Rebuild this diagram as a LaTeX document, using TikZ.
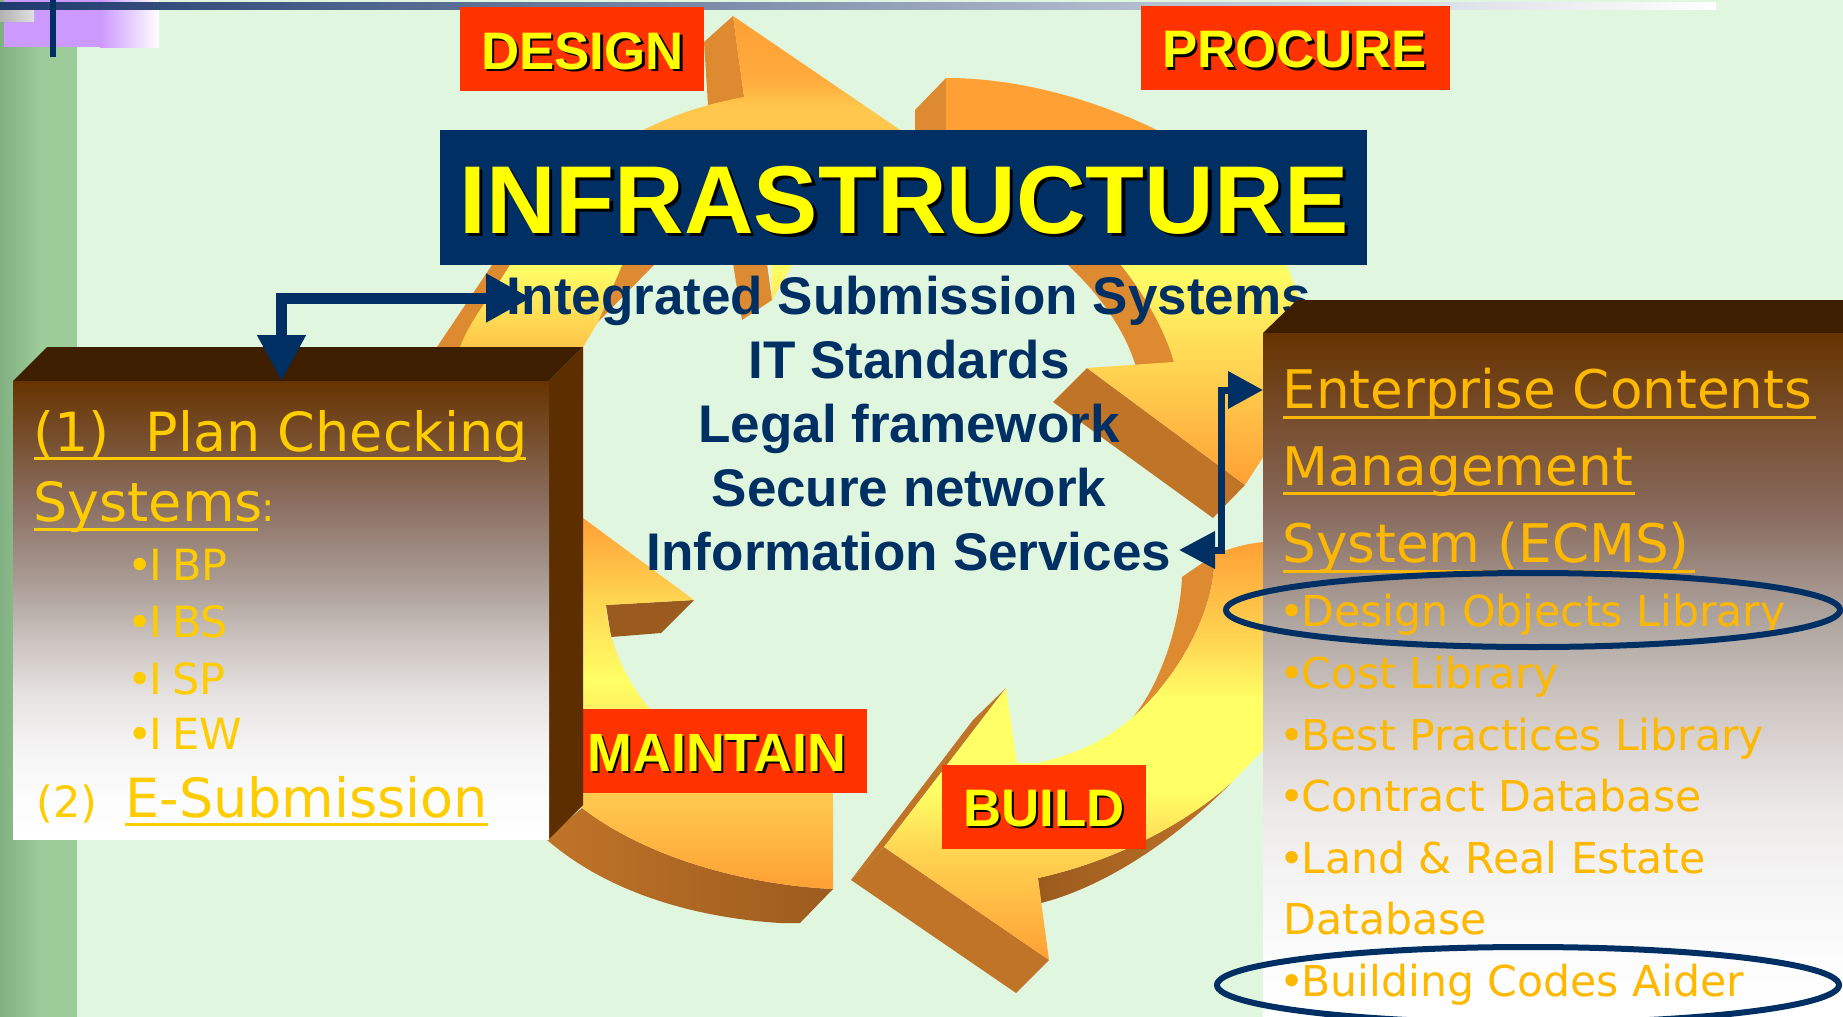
\documentclass[tikz,border=0pt]{standalone}
\usepackage{fontspec}
\usetikzlibrary{arrows.meta,shapes.geometric}
\setmainfont{Liberation Sans}
\newfontfamily\tah{DejaVu Sans}
\definecolor{bgc}{HTML}{E0F6DF}
\definecolor{navy}{HTML}{003063}
\definecolor{redl}{HTML}{FF3300}
\definecolor{gold}{HTML}{FFCC00}
\definecolor{goldr}{HTML}{FFB800}
\definecolor{txtyel}{HTML}{FFFF00}
\definecolor{or1}{HTML}{FFA035}
\definecolor{or2}{HTML}{FFAA3C}
\definecolor{orm}{HTML}{FFC84D}
\definecolor{orh}{HTML}{FFD552}
\definecolor{yel}{HTML}{FFFF66}
\definecolor{brtop}{HTML}{663300}
\definecolor{brtopf}{HTML}{3D1F00}
\definecolor{brside}{HTML}{5C2E00}
\definecolor{dkA}{HTML}{DE8A30}
\definecolor{dkB}{HTML}{C07428}
\definecolor{dkC}{HTML}{9C5B1E}
\definecolor{bandL}{HTML}{80B080}
\definecolor{bandR}{HTML}{9CCC98}
\definecolor{purp}{HTML}{CC99FF}
\definecolor{barL}{HTML}{1F3A6E}
\definecolor{g1}{HTML}{8A6D60}
\definecolor{g2}{HTML}{A89A92}
\definecolor{g3}{HTML}{C8C0BC}
\definecolor{g4}{HTML}{E5E1E0}
\definecolor{g5}{HTML}{F5F4F4}
\definecolor{g6}{HTML}{FCFCFC}
\definecolor{h1}{HTML}{88695C}
\definecolor{h2}{HTML}{ABA09A}
\definecolor{h3}{HTML}{C8C0BC}
\definecolor{h4}{HTML}{DCD6D4}
\definecolor{h5}{HTML}{ECE9E8}
\definecolor{h6}{HTML}{F4F3F3}
\definecolor{h7}{HTML}{FAFAFA}
\pgfdeclareverticalshading{shA}{100bp}{color(0bp)=(or1); color(25bp)=(or1); color(42.6bp)=(yel); color(60.2bp)=(orm); color(63bp)=(orm); color(67bp)=(or2); color(75bp)=(or1); color(100bp)=(or1)}
\pgfdeclareverticalshading{shB}{100bp}{color(0bp)=(or1); color(25bp)=(or1); color(39.7bp)=(orh); color(52bp)=(yel); color(68.6bp)=(or1); color(75bp)=(or1); color(100bp)=(or1)}
\pgfdeclareverticalshading{shC}{100bp}{color(0bp)=(or1); color(25bp)=(or1); color(38.2bp)=(orh); color(45.3bp)=(yel); color(56.1bp)=(yel); color(63.3bp)=(orh); color(75bp)=(or1); color(100bp)=(or1)}
\pgfdeclareverticalshading{shD}{100bp}{color(0bp)=(or1); color(25bp)=(or1); color(37bp)=(orm); color(53.2bp)=(yel); color(64bp)=(orh); color(75bp)=(or1); color(100bp)=(or1)}
\pgfdeclareverticalshading{boxL}{100bp}{color(0bp)=(white); color(25bp)=(white); color(29.3bp)=(g6); color(35bp)=(g5); color(41bp)=(g4); color(47.3bp)=(g3); color(53.5bp)=(g2); color(62bp)=(g1); color(75bp)=(brtop); color(100bp)=(brtop)}
\pgfdeclareverticalshading{boxR}{100bp}{color(0bp)=(white); color(26.2bp)=(white); color(31.1bp)=(h7); color(35.6bp)=(h6); color(40.1bp)=(h5); color(44.6bp)=(h4); color(49.1bp)=(h3); color(54.8bp)=(h2); color(62bp)=(h1); color(75bp)=(brtop); color(100bp)=(brtop)}
\newcommand{\shtxt}[2]{\makebox[0pt][l]{\hspace{#1}\raisebox{-#1}{\color{black}#2}}#2}
\newcommand{\bul}{\hbox to 9pt{\hss•\hss}}
\tikzset{
  x=0.5pt,y=-0.5pt,
  labelbox/.style={fill=redl,draw=none},
  labeltext/.style={anchor=base west,inner sep=0pt,text=txtyel,font=\fontsize{26.4}{26.4}\selectfont\bfseries},
  centertext/.style={anchor=base,inner sep=0pt,text=navy,font=\fontsize{26.5}{26.5}\selectfont\bfseries},
  headl/.style={anchor=base west,inner sep=0pt,text=gold,font=\tah\fontsize{27}{27}\selectfont},
  itemsl/.style={anchor=base west,inner sep=0pt,text=gold,font=\tah\fontsize{21.5}{21.5}\selectfont},
  headr/.style={anchor=base west,inner sep=0pt,text=goldr,font=\tah\fontsize{26.6}{26.6}\selectfont},
  itemsr/.style={anchor=base west,inner sep=0pt,text=goldr,font=\tah\fontsize{21.3}{21.3}\selectfont},
  ulinel/.style={draw=gold,line width=1.5pt},
  uliner/.style={draw=goldr,line width=1.5pt},
  ring/.style={draw=navy,line width=3pt,ellipse,inner sep=0pt},
}
\begin{document}
\begin{tikzpicture}
\useasboundingbox (0,0) rectangle (1843,1017);
\clip (0,0) rectangle (1843,1017);
% background and slide template
\fill[bgc] (0,0) rectangle (1843,1017);
\shade[left color=bandL,right color=bandR] (0,0) rectangle (40,1017);
\fill[bandR] (40,0) rectangle (77,1017);
\fill[purp] (4,0) rectangle (100,47);
\shade[left color=purp,right color=white] (100,0) rectangle (159,47);
\shade[left color=black!30,right color=black!12] (0,9) rectangle (34,21);
\shade[left color=barL,right color=white] (0,2) rectangle (1716,9);
\fill[navy] (50,0) rectangle (56,57);

% --- arrow towards PROCURE side (top left, DESIGN)
\fill[dkA] (733,16) -- (704,42) -- (708,105) -- (742,320) -- (772,300) -- cycle;
\fill[dkA] (492,265) -- (437,347) -- (460,347) -- (510,265) -- cycle;
\fill[dkA] (622,265) -- (654,265) -- (598,322) -- cycle;
\shade[shading=shA] (733,16) -- (909,136) -- (792,265) -- (772,300) -- (770,190)
  .. controls (715,200) and (670,225) .. (622,265) -- (598,322) -- (583,347) -- (583,400) -- (440,400) -- (460,347)
  .. controls (470,320) and (495,290) .. (510,265)
  .. controls (545,200) and (585,160) .. (643,130)
  .. controls (670,117) and (700,105) .. (744,97) -- cycle;

% --- arrow on the right (PROCURE)
\fill[dkA] (946,78) -- (915,110) -- (915,131) -- (946,131) -- cycle;
\fill[dkA] (1068,265) -- (1121,265) .. controls (1145,295) and (1165,330) .. (1174,362) -- (1136,367) .. controls (1125,330) and (1100,295) .. (1068,265) -- cycle;
\fill[dkB] (1087,368) -- (1053,402) -- (1213,518) -- (1245,485) -- cycle;
\shade[shading=shB] (946,78) .. controls (1020,78) and (1095,100) .. (1157,130)
  .. controls (1230,170) and (1270,220) .. (1287,265)
  -- (1300,300) -- (1300,400) -- (1245,485) -- (1087,368) -- (1174,362)
  .. controls (1165,330) and (1145,295) .. (1121,265)
  .. controls (1070,190) and (1010,140) .. (946,131) -- cycle;

% --- arrow at bottom right (BUILD)
\fill[dkA] (1182,577) -- (1214,555) -- (1214,568) .. controls (1210,620) and (1175,680) .. (1133,717) .. controls (1160,685) and (1180,625) .. (1182,577) -- cycle;
\shade[left color=dkC,right color=dkB] (1231,783) .. controls (1190,820) and (1120,860) .. (1038,878) -- (1041,903) .. controls (1100,888) and (1170,845) .. (1231,783) -- cycle;
\fill[dkB] (1006,688) -- (973,720) -- (851,880) -- (884,847) -- cycle;
\fill[dkB] (884,847) -- (851,880) -- (1016,993) -- (1049,960) -- cycle;
\shade[shading=shC] (1263,542) .. controls (1245,544) and (1230,548) .. (1214,555) -- (1214,568)
  .. controls (1210,620) and (1175,680) .. (1133,717)
  .. controls (1100,745) and (1070,755) .. (1038,763) -- (1017,763) -- (1006,688) -- (884,847) -- (1049,960) -- (1038,878)
  .. controls (1120,860) and (1190,820) .. (1231,783) -- (1263,750) -- (1300,750) -- (1300,542) -- cycle;

% --- arrow at bottom left (MAINTAIN)
\fill[dkC] (606,605) -- (694,600) -- (661,633) -- (611,637) -- cycle;
\shade[left color=dkB,right color=dkC] (582,808) .. controls (650,860) and (750,885) .. (833,889) -- (800,923) -- (780,923) .. controls (700,918) and (610,895) .. (546,839) -- cycle;
\shade[shading=shD] (833,889) .. controls (750,885) and (650,860) .. (582,808) -- (540,750) -- (540,518) -- (583,518) -- (694,600) -- (606,605)
  .. controls (608,640) and (625,680) .. (650,709)
  .. controls (690,770) and (760,793) .. (833,793) -- cycle;

% --- red stage labels
\fill[labelbox] (460,7) rectangle (704,91);
\node[labeltext] (design) at (481,69) {\shtxt{1.2pt}{DESIGN}};
\fill[labelbox] (1141,6) rectangle (1450,90);
\node[labeltext] (procure) at (1162,68) {\shtxt{1.2pt}{PROCURE}};
\fill[labelbox] (583,709) rectangle (867,793);
\node[labeltext,font=\fontsize{26.9}{26.9}\selectfont\bfseries] (maintain) at (587,771) {\shtxt{1.2pt}{MAINTAIN}};
\fill[labelbox] (942,765) rectangle (1146,849);
\node[labeltext] (build) at (963,826) {\shtxt{1.2pt}{BUILD}};

% --- title
\fill[navy] (440,130) rectangle (1367,265);
\node[anchor=base west,inner sep=0pt,text=txtyel,font=\fontsize{48.2}{48.2}\selectfont\bfseries] (title) at (459,233) {\shtxt{1.6pt}{INFRASTRUCTURE}};

% --- centre list
\node[centertext] (l1) at (909,314) {Integrated Submission Systems};
\node[centertext] (l2) at (909,378) {IT Standards};
\node[centertext] (l3) at (909,442) {Legal framework};
\node[centertext] (l4) at (909,506) {Secure network};
\node[centertext] (l5) at (909,570) {Information Services};

% --- left box
\fill[brtopf] (13,381) -- (47,347) -- (583,347) -- (549,381) -- cycle;
\fill[brside] (549,381) -- (583,347) -- (583,805) -- (549,839) -- cycle;
\shade[shading=boxL] (13,381) rectangle (549,839);
\node[headl] (p1) at (33,451) {(1)\hspace{18pt}Plan Checking};
\draw[ulinel] (34,458) -- (526,458);
\node[headl] (p2) at (33,521) {Systems};
\node[anchor=base west,inner sep=0pt,text=gold,font=\tah\fontsize{20}{20}\selectfont] (p3) at (261,521) {:};
\draw[ulinel] (34,529) -- (258,529);
\node[itemsl] (ibp) at (131,580) {\bul I\kern5pt BP};
\node[itemsl] (ibs) at (131,637) {\bul I\kern5pt BS};
\node[itemsl] (isp) at (131,694) {\bul I\kern5pt SP};
\node[itemsl] (iew) at (131,749) {\bul I\kern5pt EW};
\node[itemsl] (p4) at (36,817) {(2)};
\node[headl] (p5) at (125,817) {E-Submission};
\draw[ulinel] (125,824) -- (488,824);

% --- right box
\fill[brtopf] (1263,333) -- (1297,300) -- (1843,300) -- (1843,333) -- cycle;
\shade[shading=boxR] (1263,333) rectangle (1843,1017);
\node[headr] (e1) at (1282,408) {Enterprise Contents};
\draw[uliner] (1283,417) -- (1816,417);
\node[headr] (e2) at (1282,485) {Management};
\draw[uliner] (1283,493) -- (1635,493);
\node[headr] (e3) at (1282,562) {System (ECMS)};
\draw[uliner] (1283,571) -- (1695,571);
\node[itemsr] (r1) at (1283,626) {\bul Design Objects Library};
\node[itemsr] (r2) at (1283,688) {\bul Cost Library};
\node[itemsr] (r3) at (1283,750) {\bul Best Practices Library};
\node[itemsr] (r4) at (1283,811) {\bul Contract Database};
\node[itemsr] (r5) at (1283,873) {\bul Land \& Real Estate};
\node[itemsr] (r6) at (1283,934) {Database};
\node[itemsr] (r7) at (1283,996) {\bul Building Codes Aider};

% --- ellipses
\node[ring,minimum width=307pt,minimum height=37pt] (o1) at (1533,610) {};
\node[ring,minimum width=311pt,minimum height=38pt] (o2) at (1528,985) {};

% --- connectors
\coordinate (ltA) at (531,298);
\coordinate (ltB) at (281.5,381);
\coordinate (ltK) at (281.5,298);
\draw[navy,line width=5.5pt,{Triangle[length=23pt,width=23pt]}-{Triangle[length=22.5pt,width=23pt]}] (ltB) -- (ltK) -- (ltA);
\coordinate (rtA) at (1263,390);
\coordinate (rtB) at (1179,550);
\coordinate (rtK) at (1221,390);
\coordinate (rtL) at (1221,550);
\draw[navy,line width=3.5pt,{Triangle[length=17.5pt,width=18pt]}-{Triangle[length=18pt,width=18pt]}] (rtA) -- (rtK) -- (rtL) -- (rtB);
\end{tikzpicture}
\end{document}
